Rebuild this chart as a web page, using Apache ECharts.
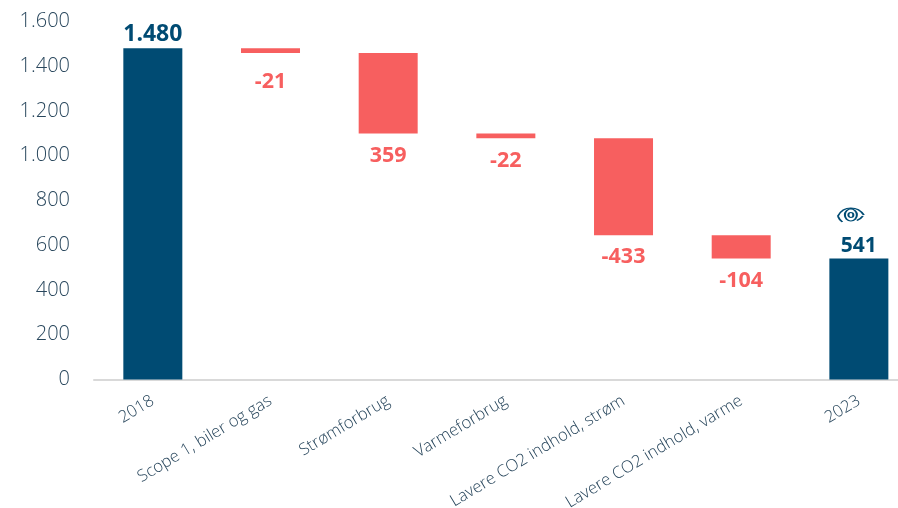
<!DOCTYPE html>
<html>
<head>
<meta charset="utf-8">
<script src="https://cdn.jsdelivr.net/npm/echarts@6/dist/echarts.min.js"></script>
<style>
  html, body { margin: 0; padding: 0; background: #fff; }
  #chart { width: 898px; height: 508px; }
</style>
</head>
<body>
<div id="chart"></div>
<script>
const categories = ['2018', 'Scope 1, biler og gas', 'Strømforbrug', 'Varmeforbrug', 'Lavere CO2 indhold, strøm', 'Lavere CO2 indhold, varme', '2023'];
// usynlig base under de røde søjler
const baseValues = [0, 1459, 1100, 1078, 645, 541, 0];
const totalValues = [1480, null, null, null, null, null, 541];
const changeValues = [null, 21, 359, 22, 433, 104, null];
const totalLabels = ['1.480', '', '', '', '', '', '541'];
const changeLabels = ['', '-21', '359', '-22', '-433', '-104', ''];

const blue = '#004b73';
const red = '#f75f5f';
const textColor = '#28465c';
const eyeValue = 735;
const eyePath = 'path://M0 16C6 5 16 0 26 0C36 0 46 5 52 14M0 16C2 21 5 25 9 28M50 16C47 20 43 23 38 25M26 2A12 12 0 1 0 26.01 2ZM26 9A5 5 0 1 0 26.01 9Z';

const myChart = echarts.init(document.getElementById('chart'));
myChart.setOption({
  animation: false,
  textStyle: { fontFamily: 'Open Sans' },
  grid: { left: 94, width: 823.7, top: 21.5, height: 358, outerBoundsMode: 'none' },
  xAxis: {
    type: 'category',
    data: categories,
    axisLine: { lineStyle: { color: '#d9d9d9', width: 2 } },
    axisTick: { show: false },
    axisLabel: { rotate: 31, interval: 0, margin: 20, fontSize: 16.7, fontWeight: 300, color: textColor, fontFamily: 'Open Sans' }
  },
  yAxis: {
    type: 'value',
    min: 0,
    max: 1600,
    interval: 200,
    splitLine: { show: false },
    axisLine: { show: false },
    axisTick: { show: false },
    axisLabel: {
      margin: 24,
      fontSize: 20,
      fontWeight: 300,
      color: textColor,
      fontFamily: 'Open Sans',
      formatter: v => String(v).replace(/\B(?=(\d{3})+$)/g, '.')
    }
  },
  series: [
    {
      type: 'bar',
      stack: 'w',
      barWidth: 59,
      data: baseValues,
      silent: true,
      itemStyle: { color: 'transparent' }
    },
    {
      type: 'bar',
      stack: 'w',
      barWidth: 59,
      data: totalValues.map((v, i) => ({ value: v, label: { fontSize: i === 0 ? 23 : 21 } })),
      itemStyle: { color: blue },
      label: {
        show: true,
        position: 'top',
        distance: 2,
        fontWeight: 700,
        color: blue,
        fontFamily: 'Open Sans',
        formatter: p => totalLabels[p.dataIndex]
      },
      markPoint: {
        silent: true,
        symbol: eyePath,
        symbolSize: [26, 14],
        symbolOffset: [-8, 0],
        itemStyle: { color: 'transparent', borderColor: blue, borderWidth: 1.5 },
        label: { show: false },
        data: [{ coord: ['2023', eyeValue] }]
      }
    },
    {
      type: 'bar',
      stack: 'w',
      barWidth: 59,
      data: changeValues.map((v, i) => ({ value: v, label: { distance: i === 1 ? 18 : (i === 3 ? 12 : 11) } })),
      itemStyle: { color: red },
      label: {
        show: true,
        position: 'bottom',
        fontSize: 21.5,
        fontWeight: 700,
        color: red,
        fontFamily: 'Open Sans',
        formatter: p => changeLabels[p.dataIndex]
      }
    }
  ]
});
</script>
</body>
</html>
